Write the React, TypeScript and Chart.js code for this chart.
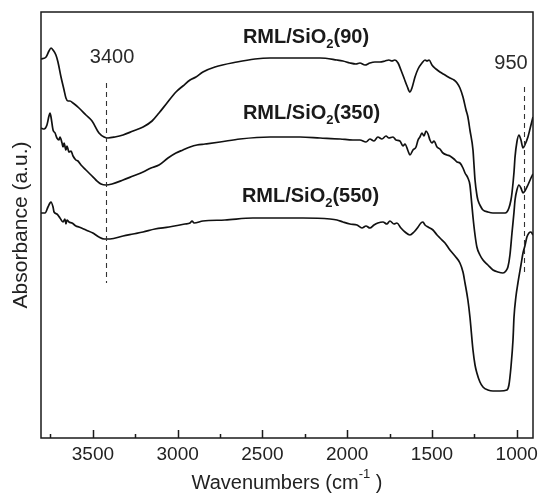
import { useEffect, useRef } from "react";
import { Chart, registerables } from "chart.js";

Chart.register(...registerables);

// Wavenumbers (cm-1) and absorbance (a.u.)
const wn90 = [3806, 3776, 3759, 3747, 3735, 3718, 3706, 3688, 3670, 3659, 3647, 3635, 3617, 3582, 3541, 3505, 3464, 3434, 3411, 3370, 3322, 3263, 3204, 3151, 3110, 3063, 3010, 2969, 2927, 2892, 2851, 2780, 2650, 2544, 2455, 2261, 2160, 2060, 2025, 1984, 1948, 1925, 1895, 1866, 1836, 1807, 1777, 1754, 1736, 1719, 1700, 1683, 1665, 1647, 1630, 1618, 1600, 1582, 1559, 1541, 1529, 1517, 1500, 1476, 1453, 1423, 1394, 1370, 1352, 1335, 1317, 1299, 1288, 1276, 1258, 1252, 1246, 1235, 1229, 1211, 1199, 1170, 1140, 1099, 1069, 1058, 1046, 1034, 1028, 1016, 1010, 999, 987, 975, 963, 952, 934, 916, 904];
const abs90 = [379, 381, 387, 390, 388, 383, 376, 361, 348, 340, 337, 337, 335, 330, 323, 317, 305, 301, 300, 301, 303, 307, 311, 317, 325, 335, 346, 352, 358, 361, 366, 371, 376, 379, 380, 380, 380, 378, 377, 375, 374, 375, 373, 375, 376, 376, 377, 378, 377, 378, 375, 368, 360, 352, 346, 350, 361, 369, 375, 378, 377, 378, 373, 369, 366, 363, 360, 358, 355, 350, 341, 328, 321, 308, 288, 273, 258, 243, 238, 231, 228, 226, 225, 225, 225, 226, 230, 238, 245, 266, 281, 296, 303, 298, 290, 293, 301, 313, 321];

const wn350 = [3806, 3788, 3771, 3759, 3753, 3747, 3735, 3723, 3712, 3700, 3694, 3682, 3676, 3670, 3659, 3653, 3641, 3629, 3617, 3600, 3588, 3570, 3541, 3511, 3482, 3452, 3423, 3387, 3322, 3263, 3204, 3157, 3110, 3057, 3010, 2969, 2927, 2886, 2839, 2750, 2632, 2455, 2278, 2160, 2042, 1966, 1925, 1889, 1866, 1842, 1819, 1795, 1771, 1754, 1730, 1712, 1689, 1671, 1659, 1641, 1630, 1612, 1594, 1582, 1571, 1559, 1547, 1535, 1523, 1512, 1500, 1488, 1470, 1453, 1435, 1411, 1394, 1370, 1352, 1335, 1317, 1305, 1288, 1276, 1270, 1258, 1246, 1235, 1217, 1199, 1170, 1140, 1111, 1081, 1064, 1052, 1040, 1028, 1016, 1010, 999, 987, 975, 963, 952, 934, 916, 904];
const abs350 = [310, 309, 313, 322, 325, 321, 308, 305, 300, 298, 301, 295, 291, 295, 288, 292, 286, 287, 282, 278, 277, 273, 268, 263, 258, 254, 253, 254, 258, 262, 266, 270, 273, 280, 285, 288, 291, 293, 294, 296, 299, 301, 301, 300, 299, 298, 298, 296, 299, 297, 301, 299, 302, 300, 301, 298, 297, 292, 294, 287, 283, 288, 291, 298, 301, 305, 302, 307, 304, 298, 295, 297, 291, 289, 285, 283, 282, 279, 276, 275, 270, 265, 260, 253, 243, 221, 203, 191, 183, 178, 173, 168, 166, 165, 167, 171, 183, 205, 226, 238, 248, 253, 250, 245, 247, 253, 260, 264];

const wn550 = [3806, 3782, 3765, 3753, 3747, 3735, 3729, 3712, 3694, 3676, 3665, 3659, 3653, 3641, 3623, 3600, 3582, 3541, 3500, 3464, 3434, 3399, 3322, 3263, 3204, 3134, 3051, 2957, 2927, 2915, 2903, 2851, 2721, 2556, 2261, 2101, 2060, 2025, 1984, 1942, 1913, 1889, 1866, 1842, 1819, 1789, 1766, 1748, 1724, 1707, 1683, 1659, 1630, 1606, 1582, 1565, 1553, 1541, 1523, 1494, 1470, 1453, 1423, 1394, 1364, 1335, 1317, 1305, 1288, 1276, 1258, 1246, 1235, 1217, 1199, 1170, 1140, 1099, 1058, 1046, 1034, 1022, 1016, 1005, 993, 975, 963, 952, 940, 928, 916, 904];
const abs550 = [225, 225, 231, 235, 236, 231, 226, 224, 220, 216, 219, 214, 218, 216, 215, 212, 211, 208, 205, 201, 199, 199, 202, 204, 206, 209, 211, 214, 215, 217, 215, 217, 218, 220, 220, 219, 218, 216, 214, 213, 210, 212, 210, 213, 215, 216, 214, 217, 214, 215, 210, 206, 203, 206, 211, 215, 216, 213, 211, 208, 203, 200, 195, 188, 182, 175, 166, 155, 138, 121, 88, 73, 65, 56, 51, 48, 47, 47, 48, 53, 71, 98, 121, 141, 155, 173, 185, 192, 201, 205, 206, 203];

const seriesNames = ["RML/SiO2(90)", "RML/SiO2(350)", "RML/SiO2(550)"];
const majorTicks = [3500, 3000, 2500, 2000, 1500, 1000];
const minorTicks = [3750, 3250, 2750, 2250, 1750, 1250];
const markerWn = [3425, 960];
const markerText = ["3400", "950"];

const FONT = '"Liberation Sans", Arial, Helvetica, sans-serif';

function toPoints(xs: number[], ys: number[]) {
  return xs.map((v, i) => ({ x: v, y: ys[i] }));
}

type Part = { t: string; size: number; dy: number; bold?: boolean };

function drawParts(ctx: CanvasRenderingContext2D, x: number, y: number, parts: Part[], align: "left" | "center") {
  ctx.textBaseline = "middle";
  ctx.textAlign = "left";
  let total = 0;
  const widths = parts.map((p) => {
    ctx.font = `${p.bold ? "bold " : ""}${p.size}px ${FONT}`;
    const w = ctx.measureText(p.t).width;
    total += w;
    return w;
  });
  let cx = align === "center" ? x - total / 2 : x;
  parts.forEach((p, i) => {
    ctx.font = `${p.bold ? "bold " : ""}${p.size}px ${FONT}`;
    ctx.fillText(p.t, cx, y + p.dy);
    cx += widths[i];
  });
}

const decor = {
  id: "decor",
  afterDatasetsDraw(chart: any) {
    const { ctx, chartArea: a, scales } = chart;
    const xs = scales.x;
    const ys = scales.y;
    ctx.save();
    ctx.strokeStyle = "#1a1a1a";
    ctx.lineWidth = 1.5;
    ctx.strokeRect(a.left, a.top, a.right - a.left, a.bottom - a.top);
    ctx.beginPath();
    majorTicks.forEach((v) => {
      const px = Math.round(xs.getPixelForValue(v)) + 0.5;
      ctx.moveTo(px, a.bottom);
      ctx.lineTo(px, a.bottom - 8);
    });
    minorTicks.forEach((v) => {
      const px = Math.round(xs.getPixelForValue(v)) + 0.5;
      ctx.moveTo(px, a.bottom);
      ctx.lineTo(px, a.bottom - 4);
    });
    ctx.lineWidth = 1.5;
    ctx.stroke();

    // dashed marker lines
    ctx.setLineDash([5, 4]);
    ctx.lineWidth = 1.1;
    ctx.strokeStyle = "#333";
    const spans = [[355, 155], [351, 166]];
    markerWn.forEach((v, i) => {
      const px = Math.round(xs.getPixelForValue(v)) + 0.5;
      ctx.beginPath();
      ctx.moveTo(px, ys.getPixelForValue(spans[i][0]));
      ctx.lineTo(px, ys.getPixelForValue(spans[i][1]));
      ctx.stroke();
    });
    ctx.setLineDash([]);

    // marker labels
    ctx.fillStyle = "#2a2a2a";
    const markerPos = [[3387, 381], [1034, 375]];
    markerText.forEach((t, i) => {
      drawParts(ctx, xs.getPixelForValue(markerPos[i][0]), ys.getPixelForValue(markerPos[i][1]), [{ t, size: 20, dy: 0 }], "center");
    });

    // series labels with subscript
    ctx.fillStyle = "#1a1a1a";
    const labelPos = [[2615, 401], [2615, 325], [2621, 242]];
    seriesNames.forEach((name, i) => {
      const idx = name.indexOf("2(");
      const parts: Part[] = [
        { t: name.slice(0, idx), size: 20, dy: 0, bold: true },
        { t: "2", size: 13, dy: 7, bold: true },
        { t: name.slice(idx + 1), size: 20, dy: 0, bold: true },
      ];
      drawParts(ctx, xs.getPixelForValue(labelPos[i][0]), ys.getPixelForValue(labelPos[i][1]), parts, "left");
    });

    // x axis title with superscript
    ctx.fillStyle = "#222";
    drawParts(ctx, (a.left + a.right) / 2, 483, [
      { t: "Wavenumbers (cm", size: 20, dy: 0 },
      { t: "-1", size: 13, dy: -9 },
      { t: " )", size: 20, dy: 0 },
    ], "center");
    ctx.restore();
  },
};

export default function App() {
  const ref = useRef<HTMLCanvasElement | null>(null);
  useEffect(() => {
    if (!ref.current) return;
    const lineStyle = {
      borderColor: "#111",
      borderWidth: 1.7,
      pointRadius: 0,
      fill: false,
      cubicInterpolationMode: "monotone" as const,
    };
    const chart = new Chart(ref.current, {
      type: "line",
      data: {
        datasets: [
          { label: seriesNames[0], data: toPoints(wn90, abs90), ...lineStyle },
          { label: seriesNames[1], data: toPoints(wn350, abs350), ...lineStyle },
          { label: seriesNames[2], data: toPoints(wn550, abs550), ...lineStyle },
        ],
      },
      options: {
        animation: false,
        responsive: false,
        maintainAspectRatio: false,
        layout: { padding: { top: 12, right: 6, left: 0, bottom: 0 } },
        plugins: { legend: { display: false }, tooltip: { enabled: false } },
        scales: {
          x: {
            type: "linear",
            reverse: true,
            min: 904,
            max: 3806,
            grid: { display: false, drawTicks: false },
            border: { display: false },
            afterBuildTicks: (s: any) => {
              s.ticks = majorTicks.map((v) => ({ value: v }));
            },
            afterFit: (s: any) => {
              s.height = 59;
              s.paddingLeft = 0;
              s.paddingRight = 0;
            },
            ticks: {
              autoSkip: false,
              maxRotation: 0,
              padding: 5,
              color: "#222",
              font: { family: FONT, size: 19 },
              callback: (v: any) => String(v),
            },
          },
          y: {
            type: "linear",
            min: 0,
            max: 426,
            grid: { display: false, drawTicks: false },
            border: { display: false },
            ticks: { display: false },
            afterFit: (s: any) => {
              s.width = 41;
              s.paddingTop = 0;
              s.paddingBottom = 0;
            },
            title: {
              display: true,
              text: "Absorbance (a.u.)",
              color: "#222",
              font: { family: FONT, size: 21 },
              padding: { top: 9, bottom: 0 },
            },
          },
        },
      },
      plugins: [decor],
    });
    return () => chart.destroy();
  }, []);
  return (
    <div style={{ position: "fixed", left: 0, top: 0, width: 539, height: 497, background: "#fff" }}>
      <canvas ref={ref} width={539} height={497} style={{ display: "block", width: 539, height: 497 }} />
    </div>
  );
}
